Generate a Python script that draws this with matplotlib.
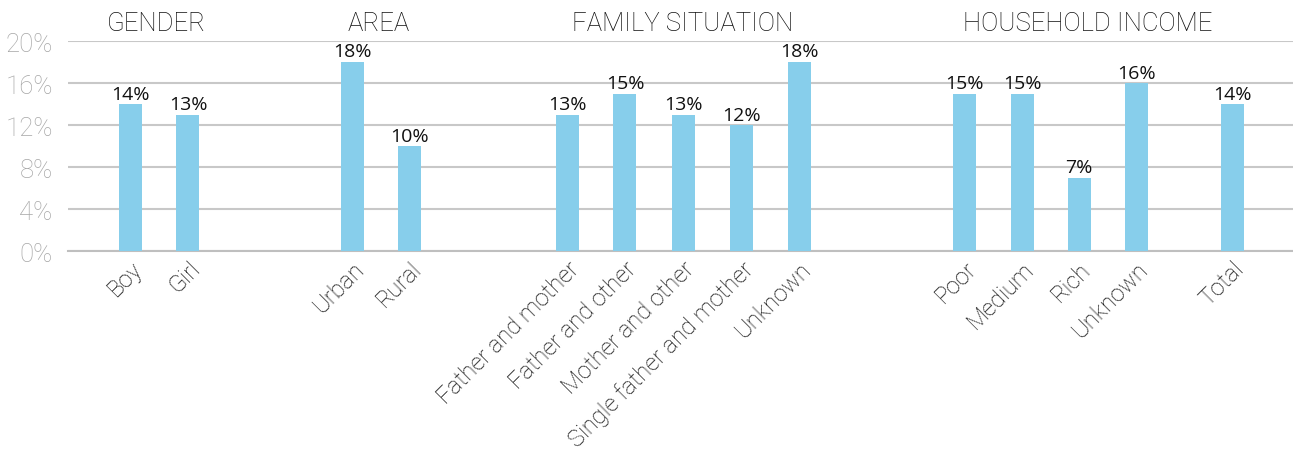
import matplotlib
matplotlib.use("Agg")
import matplotlib.pyplot as plt
from matplotlib.ticker import FuncFormatter

# Data
categories = ["Boy", "Girl", "Urban", "Rural",
              "Father and mother", "Father and other", "Mother and other",
              "Single father and mother", "Unknown",
              "Poor", "Medium", "Rich", "Unknown", "Total"]
values = [14, 13, 18, 10, 13, 15, 13, 12, 18, 15, 15, 7, 16, 14]
group_titles = ["GENDER", "AREA", "FAMILY SITUATION", "HOUSEHOLD INCOME"]
y_ticks = [0, 4, 8, 12, 16, 20]

# Layout: bar slots with wider gaps between groups
positions = [0, 1, 3.86, 4.86, 7.6, 8.6, 9.61, 10.62, 11.63,
             14.51, 15.51, 16.5, 17.5, 19.17]
title_positions = [0.45, 4.32, 9.61, 16.65]

thin = dict(family=["Roboto", "DejaVu Sans"], fontweight="light")
bar_color = "#87CEEB"

fig = plt.figure(figsize=(12.93, 4.52), dpi=100)
ax = fig.add_axes([0.0526, 0.4418, 0.9474, 0.4652])

ax.bar(positions, values, width=0.4, color=bar_color, zorder=3)

for x, v in zip(positions, values):
    ax.text(x, v + 0.15, f"{v}%", ha="center", va="bottom",
            fontsize=14, color="#111111",
            family=["Open Sans", "DejaVu Sans"], zorder=4)

for x, t in zip(title_positions, group_titles):
    ax.text(x, 21.75, t, ha="center", va="center", fontsize=18.5,
            color="#111111", clip_on=False, **thin)

ax.set_xlim(-1.087, 20.22)
ax.set_ylim(0, 20)
ax.set_yticks(y_ticks)
ax.yaxis.set_major_formatter(FuncFormatter(lambda v, p: f"{int(v)}%"))
ax.grid(axis="y", color="#C8C8C8", linewidth=1.5, zorder=0)
ax.set_axisbelow(True)

ax.set_xticks(positions)
ax.set_xticklabels(categories, rotation=45, rotation_mode="anchor",
                   ha="right", va="top", fontsize=17, color="#111111",
                   **thin)
for lbl in ax.get_yticklabels():
    lbl.set_fontsize(18.5)
    lbl.set_color("#A6A6A6")
    lbl.set_fontfamily(["Roboto", "DejaVu Sans"])
    lbl.set_fontweight("light")

ax.tick_params(axis="both", length=0)
ax.tick_params(axis="y", pad=11)
ax.tick_params(axis="x", pad=4)
for side in ["top", "right", "left"]:
    ax.spines[side].set_visible(False)
ax.spines["bottom"].set_color("#BFBFBF")
ax.spines["bottom"].set_linewidth(1.5)

fig.savefig("out.png", dpi=100)
